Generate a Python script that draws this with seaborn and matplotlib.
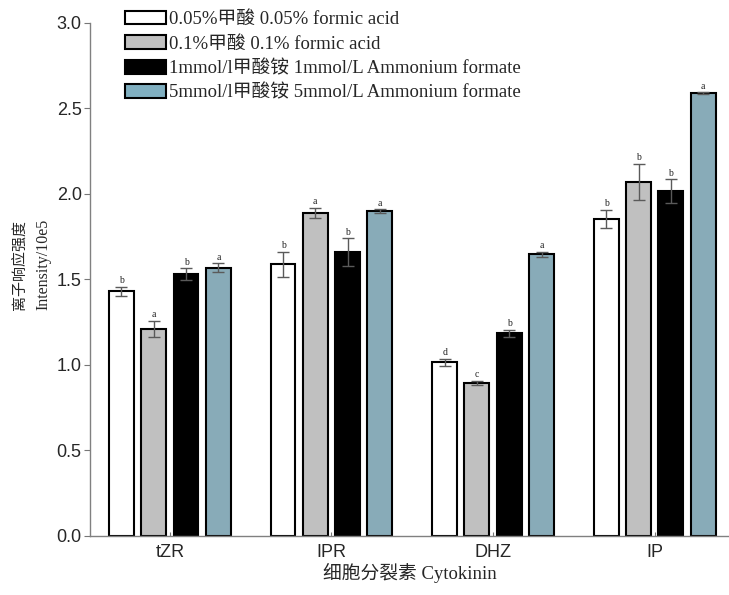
import matplotlib
matplotlib.use("Agg")
import matplotlib.pyplot as plt
import matplotlib.patches as mpatches
import numpy as np
import pandas as pd
import seaborn as sns

# Cytokinin response under four mobile-phase additives
cytokinins = ["tZR", "IPR", "DHZ", "IP"]
additives = [
    "0.05%甲酸 0.05% formic acid",
    "0.1%甲酸 0.1% formic acid",
    "1mmol/l甲酸铵 1mmol/L Ammonium formate",
    "5mmol/l甲酸铵 5mmol/L Ammonium formate",
]
formic_005 = [1.43, 1.59, 1.016, 1.855]
formic_01 = [1.21, 1.89, 0.895, 2.072]
ammonium_1 = [1.53, 1.66, 1.185, 2.016]
ammonium_5 = [1.57, 1.90, 1.647, 2.588]

formic_005_err = [0.027, 0.073, 0.020, 0.052]
formic_01_err = [0.046, 0.030, 0.014, 0.105]
ammonium_1_err = [0.035, 0.080, 0.020, 0.070]
ammonium_5_err = [0.024, 0.010, 0.016, 0.006]

formic_005_sig = ["b", "b", "d", "b"]
formic_01_sig = ["a", "a", "c", "b"]
ammonium_1_sig = ["b", "b", "b", "b"]
ammonium_5_sig = ["a", "a", "a", "a"]

colors = ["#ffffff", "#c0c0c0", "#000000", "#80afc0"]

values = [formic_005, formic_01, ammonium_1, ammonium_5]
errors = [formic_005_err, formic_01_err, ammonium_1_err, ammonium_5_err]
letters = [formic_005_sig, formic_01_sig, ammonium_1_sig, ammonium_5_sig]

df = pd.DataFrame({
    "cytokinin": np.tile(cytokinins, len(additives)),
    "additive": np.repeat(additives, len(cytokinins)),
    "intensity": np.concatenate(values),
})

sns.set_theme(style="white")
serif = ["Liberation Serif", "Noto Sans CJK SC"]
plt.rcParams["font.family"] = ["Liberation Sans", "Noto Sans CJK SC"]

fig = plt.figure(figsize=(7.29, 5.95), dpi=100)
ax = fig.add_axes([0.1235, 0.0992, 0.8765, 0.8622])

sns.barplot(
    data=df, x="cytokinin", y="intensity", hue="additive",
    order=cytokinins, hue_order=additives, palette=colors,
    edgecolor="black", linewidth=1.5, gap=0.23, width=0.8,
    errorbar=None, legend=False, ax=ax,
)

# error bars and significance letters on top of each bar
for container, err, sig in zip(ax.containers, errors, letters):
    for bar, e, s in zip(container, err, sig):
        xc = bar.get_x() + bar.get_width() / 2
        h = bar.get_height()
        ax.errorbar(xc, h, yerr=e, color="#5a5a5a", elinewidth=1.0,
                    capsize=4, capthick=1.0, zorder=5)
        ax.text(xc, h + e + 0.01, s, ha="center", va="bottom",
                fontsize=7, family=serif, color="#222222")

ax.set_ylim(0, 3.0)
ax.set_xlim(-0.494, 3.46)
ax.set_yticks(np.arange(0, 3.01, 0.5))
ax.set_yticklabels([f"{v:.1f}" for v in np.arange(0, 3.01, 0.5)], fontsize=13)
ax.tick_params(axis="x", labelsize=13, direction="in", length=3, width=0.8,
               color="#777777", bottom=True, pad=6)
ax.tick_params(axis="y", direction="out", length=4, width=0.8,
               color="#777777", left=True, pad=2)

for side in ["top", "right"]:
    ax.spines[side].set_visible(False)
for side in ["left", "bottom"]:
    ax.spines[side].set_color("#808080")
    ax.spines[side].set_linewidth(1.0)

ax.set_xlabel("细胞分裂素 Cytokinin", fontsize=13.5, family=serif, labelpad=1)
ax.set_ylabel("")

# two-line y label: Chinese title beside its English translation
fig.text(20 / 729, 1 - 265 / 595, "离子响应强度", rotation=90,
         ha="center", va="center", fontsize=10.8, family=serif)
fig.text(43 / 729, 1 - 264 / 595, "Intensity/10e5", rotation=90,
         ha="center", va="center", fontsize=11.5, family=serif)

handles = [mpatches.Patch(facecolor=c, edgecolor="black", linewidth=1.5)
           for c in colors]
fig.legend(handles, additives, loc="upper left",
           bbox_to_anchor=(0.172, 0.982), frameon=False,
           prop={"family": serif, "size": 13.5},
           handlelength=2.19, handleheight=0.75, handletextpad=0.12,
           labelspacing=0.38, borderpad=0, borderaxespad=0)

fig.savefig("out.png", dpi=100)
